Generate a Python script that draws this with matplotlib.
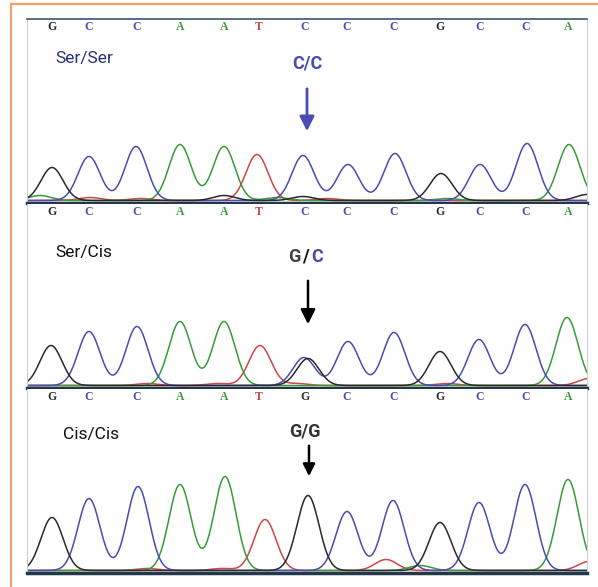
import numpy as np
import matplotlib.pyplot as plt
from matplotlib.lines import Line2D

# base calls shown above each trace
calls = [list("GCCAATCCCGCCA"), list("GCCAATCCCGCCA"), list("GCCAATGCCGCCA")]
call_x = [25, 62, 110, 153, 197, 232, 278, 320, 367, 413, 453, 499, 541]

# main peaks per panel (scan position, base, height)
p1_x = [25, 62, 109, 153, 197, 230, 276, 321, 368, 414, 453, 500, 542]
p1_b = list("GCCAATCCCGCCA")
p1_h = [33, 44, 54, 56, 54, 46, 45, 36, 47, 27, 36, 57, 56]

p2_x = [24, 62, 110, 153, 197, 233, 281, 277, 321, 367, 413, 452, 498, 540]
p2_b = list("GCCAATGCCCGCCA")
p2_h = [40, 54, 59, 64, 64, 40, 27, 28, 44, 53, 34, 46, 61, 68]

p3_x = [25, 62, 111, 153, 198, 238, 281, 320, 366, 413, 452, 498, 541]
p3_b = list("GCCAATGCCGCCA")
p3_h = [53, 72, 84, 86, 94, 51, 75, 59, 70, 48, 68, 86, 91]

# small background peaks
n1_x = [13, 197, 276, 63, 113, 250, 560, 300, 420]
n1_b = list("AGGTTAGTA")
n1_h = [5, 5, 4, 3, 2, 3, 6, 2, 2]
n2_x = [120, 190, 270, 420, 562]
n2_b = list("TTTTT")
n2_h = [2, 2, 2, 2, 7]
n3_x = [120, 195, 359, 393, 562]
n3_b = list("TTTAT")
n3_h = [2, 2, 11, 5, 9]

labels = ["Ser/Ser", "Ser/Cis", "Cis/Cis"]

colors = {"G": "#2a2a2a", "C": "#4b4bb0", "A": "#3a9a3a", "T": "#d04545"}

W, H = 598, 587
fig = plt.figure(figsize=(W / 100, H / 100), dpi=100)
fig.patch.set_facecolor("white")

# orange frame
fig.add_artist(Line2D([11 / W, 1], [1 - 4 / H, 1 - 4 / H], color="#f4a06c", lw=1.6))
fig.add_artist(Line2D([11 / W, 11 / W], [1 - 4 / H, 0], color="#f4a06c", lw=1.6))

panels = [(19, 203), (204, 388), (389, 573)]
peaks = [(p1_x, p1_b, p1_h, n1_x, n1_b, n1_h),
         (p2_x, p2_b, p2_h, n2_x, n2_b, n2_h),
         (p3_x, p3_b, p3_h, n3_x, n3_b, n3_h)]

x = np.linspace(0, 560, 1400)
sigma = 11
axes = []
for i, (top, bot) in enumerate(panels):
    ax = fig.add_axes([27 / W, 1 - bot / H, 560 / W, (bot - top) / H])
    ax.set_xlim(0, 560)
    ax.set_ylim(-1, bot - top - 1)
    px, pb, ph, nx, nb, nh = peaks[i]
    for base in "TACG":
        y = np.full_like(x, 1.5)
        for xx, bb, hh in list(zip(px, pb, ph)) + list(zip(nx, nb, nh)):
            if bb == base:
                y += hh * np.exp(-0.5 * ((x - xx) / sigma) ** 2)
        ax.plot(x, y, color=colors[base], lw=1.1)
    for xx, bb in zip(call_x, calls[i]):
        ax.text(xx, bot - top - 9, bb, color=colors[bb], ha="center", va="center",
                fontsize=8.5, family="Liberation Serif", fontweight="bold")
    ax.set_xticks([])
    ax.set_yticks([])
    for s in ["left", "right"]:
        ax.spines[s].set_color("#d0d0d0")
        ax.spines[s].set_linewidth(0.8)
    ax.spines["bottom"].set_color("#22384a")
    ax.spines["bottom"].set_linewidth(2.5)
    if i == 0:
        ax.spines["top"].set_color("#3d5670")
        ax.spines["top"].set_linewidth(1.2)
    else:
        ax.spines["top"].set_visible(False)
    axes.append(ax)

ax1, ax2, ax3 = axes
ax1.text(28, 143, labels[0], color="#27307a", fontsize=12.5, family="Roboto", va="center")
ax2.text(28, 134, labels[1], color="#111111", fontsize=12.5, family="Roboto", va="center")
ax3.text(36, 137, labels[2], color="#111111", fontsize=12.5, family="Roboto", va="center")

ax1.text(280, 138, "C/C", color="#4b4bb0", fontsize=13, family="Roboto",
         fontweight="bold", ha="center", va="center")
ax1.annotate("", xy=(280, 68), xytext=(280, 116),
             arrowprops=dict(arrowstyle="-|>", color="#4b4bb0", lw=2, mutation_scale=22))

ax2.text(267, 130, "G", color="#444444", fontsize=13, family="Roboto",
         fontweight="bold", ha="center", va="center")
ax2.text(278, 130, "/", color="#111111", fontsize=13, family="Roboto",
         fontweight="bold", ha="center", va="center")
ax2.text(290, 130, "C", color="#4b4bb0", fontsize=13, family="Roboto",
         fontweight="bold", ha="center", va="center")
ax2.annotate("", xy=(281, 60), xytext=(281, 109),
             arrowprops=dict(arrowstyle="-|>", color="black", lw=1.8, mutation_scale=22))

ax3.text(278, 141, "G/G", color="#333333", fontsize=13, family="Roboto",
         fontweight="bold", ha="center", va="center")
ax3.annotate("", xy=(282, 93), xytext=(282, 129),
             arrowprops=dict(arrowstyle="-|>", color="black", lw=1.8, mutation_scale=18))

fig.savefig("out.png", dpi=100)
